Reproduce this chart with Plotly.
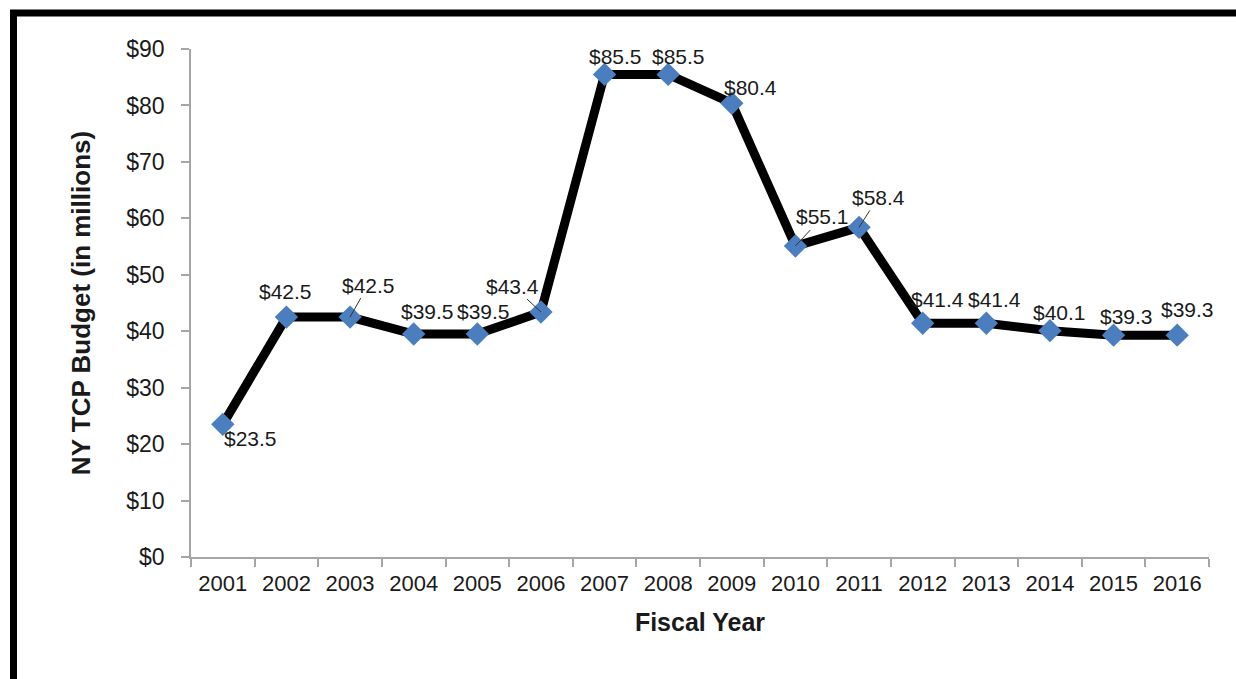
import plotly.graph_objects as go

# ---- data ----
years = ["2001", "2002", "2003", "2004", "2005", "2006", "2007", "2008",
         "2009", "2010", "2011", "2012", "2013", "2014", "2015", "2016"]
budget = [23.5, 42.5, 42.5, 39.5, 39.5, 43.4, 85.5, 85.5,
          80.4, 55.1, 58.4, 41.4, 41.4, 40.1, 39.3, 39.3]
y_tickvals = [0, 10, 20, 30, 40, 50, 60, 70, 80, 90]
y_ticktext = ["$0", "$10", "$20", "$30", "$40", "$50", "$60", "$70", "$80", "$90"]

# ---- label placement (pixel offsets from each point; style only) ----
label_dx = [28, -1, 18, 14, 6, -28, 11, 10, 19, 27, 19, 15, 8, 10, 13, 10]
label_dy = [14, -26, -32, -23, -23, -26, -18, -18, -16, -29, -30, -24, -24, -18, -19, -26]
leader = [False, False, True, False, False, True, False, False, False, True, True,
          False, False, False, False, False]

FONT = "Liberation Sans, Arial, sans-serif"
W, H = 1236, 679
L, R, T, B = 191, 27, 49, 122

fig = go.Figure()
fig.add_trace(go.Scatter(
    x=years, y=budget, mode="lines+markers",
    line=dict(color="black", width=9),
    marker=dict(symbol="diamond", size=18, color="#4A7EBF",
                line=dict(width=0)),
    hoverinfo="x+y", showlegend=False,
))

annotations = []
for i, (v, dx, dy, ld) in enumerate(zip(budget, label_dx, label_dy, leader)):
    txt = f"${v:.1f}"
    if ld:
        annotations.append(dict(
            x=i, y=v, xref="x", yref="y", text=txt, showarrow=True,
            arrowhead=0, arrowwidth=1, arrowcolor="#333333",
            ax=dx, ay=dy, standoff=0,
            font=dict(family=FONT, size=21, color="#1a1a1a"),
        ))
    else:
        annotations.append(dict(
            x=i, y=v, xref="x", yref="y", text=txt, showarrow=False,
            xshift=dx, yshift=-dy,
            font=dict(family=FONT, size=21, color="#1a1a1a"),
        ))

pw = W - L - R
ph = H - T - B
fig.add_shape(type="rect", xref="paper", yref="paper",
              x0=(13.5 - L) / pw, x1=1.5, y0=-1.0, y1=(H - B - 13) / ph,
              line=dict(color="black", width=7), fillcolor="rgba(0,0,0,0)",
              layer="above")

fig.update_layout(
    width=W, height=H,
    margin=dict(l=L, r=R, t=T, b=B, autoexpand=False),
    paper_bgcolor="white", plot_bgcolor="white",
    annotations=annotations,
    font=dict(family=FONT, color="#1a1a1a"),
    xaxis=dict(
        type="category", range=[-0.5, 15.5], tickson="boundaries",
        showline=True, linecolor="#A6A6A6", linewidth=1.5,
        ticks="outside", ticklen=8, tickcolor="#A6A6A6", tickwidth=1.5,
        showgrid=False, zeroline=False,
        tickfont=dict(family=FONT, size=22, color="#1a1a1a"),
        ticklabelstandoff=6,
        title=dict(text="<b>Fiscal Year</b>", standoff=18,
                   font=dict(family=FONT, size=25, color="#1a1a1a")),
    ),
    yaxis=dict(
        range=[0, 90], tickvals=y_tickvals, ticktext=y_ticktext,
        showline=True, linecolor="#A6A6A6", linewidth=1.5,
        ticks="outside", ticklen=8, tickcolor="#A6A6A6", tickwidth=1.5,
        showgrid=False, zeroline=False,
        tickfont=dict(family=FONT, size=23, color="#1a1a1a"),
        ticklabelstandoff=12,
        title=dict(text="<b>NY TCP Budget (in millions)</b>", standoff=28,
                   font=dict(family=FONT, size=26, color="#1a1a1a")),
    ),
)

fig.write_html("out.html",
               config={"displayModeBar": False},
               post_script="document.body.style.margin='0';document.body.style.overflow='hidden';")
